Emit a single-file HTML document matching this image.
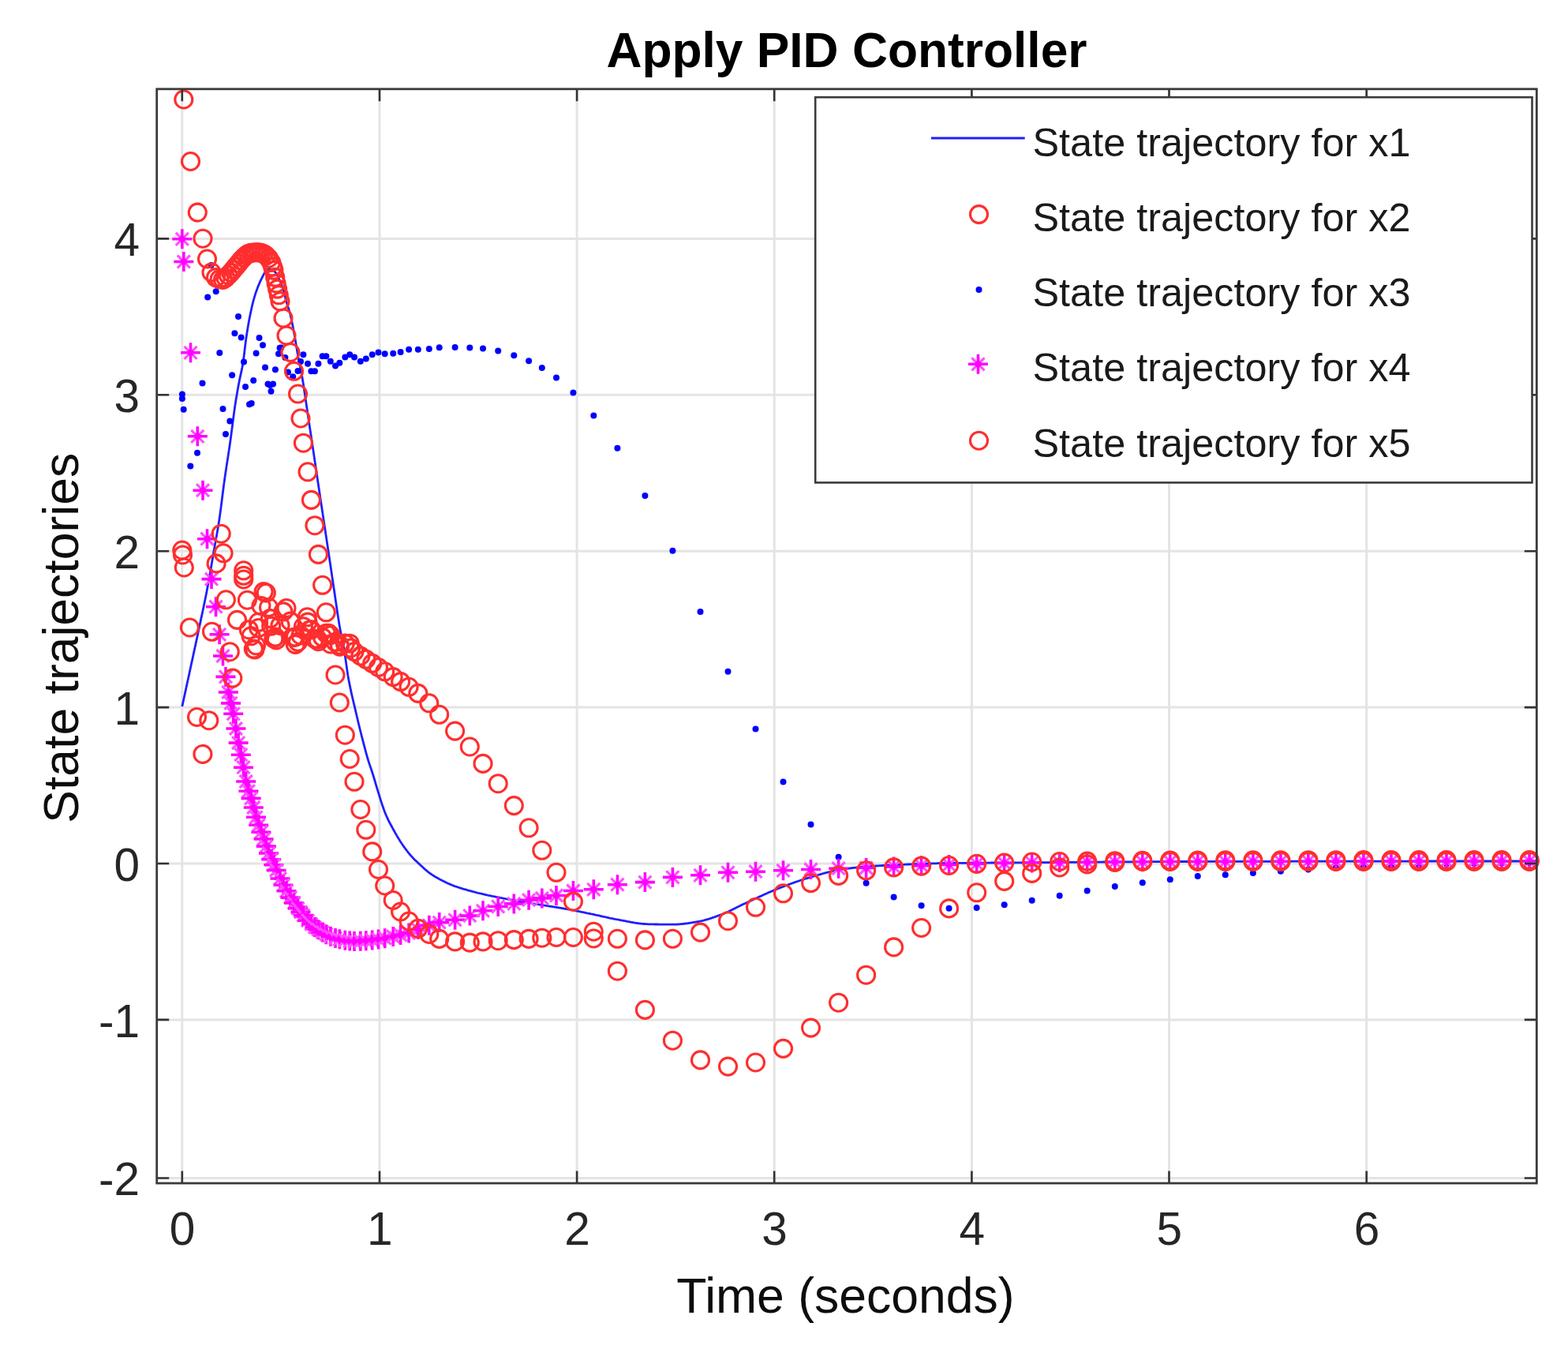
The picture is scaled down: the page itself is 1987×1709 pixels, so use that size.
<!DOCTYPE html><html><head><meta charset="utf-8"><title>Apply PID Controller</title>
<style>html,body{margin:0;padding:0;background:#fff;}svg{display:block;}text{font-family:"Liberation Sans",Arial,Helvetica,sans-serif;}</style></head><body>
<svg width="1987" height="1709" viewBox="0 0 1987 1709">
<rect x="0" y="0" width="1987" height="1709" fill="#fff"/>
<path d="M230.8 112.8V1499.0M481.0 112.8V1499.0M731.1 112.8V1499.0M981.2 112.8V1499.0M1231.4 112.8V1499.0M1481.5 112.8V1499.0M1731.7 112.8V1499.0M198.7 1492.5H1947.3M198.7 1291.9H1947.3M198.7 1094.0H1947.3M198.7 896.1H1947.3M198.7 698.2H1947.3M198.7 500.3H1947.3M198.7 302.4H1947.3" stroke="#e4e4e4" stroke-width="3" fill="none"/>
<defs><circle id="c" r="11.0" fill="none" stroke="#ff2e2e" stroke-width="3.1"/><g id="s"><path d="M-12.5 0H12.5M0 -12.5V12.5" stroke="#ff00ff" stroke-width="3.6" fill="none"/><path d="M-8 -8L8 8M-8 8L8 -8" stroke="#ff50ff" stroke-width="3.2" fill="none"/><circle r="4" fill="#ff00ff"/></g><circle id="d" r="4" fill="#0000ff"/></defs>
<polyline points="230.8,895.0 231.8,890.4 232.8,885.8 233.8,881.2 234.8,876.6 235.8,872.0 236.8,867.4 237.8,862.8 238.8,858.2 239.8,853.6 240.8,849.0 241.8,844.3 242.8,839.7 243.8,835.1 244.8,830.5 245.8,825.9 246.8,821.3 247.8,816.6 248.8,812.0 249.8,807.4 250.8,802.7 251.8,798.0 252.8,793.3 253.8,788.6 254.8,783.9 255.8,779.2 256.8,774.5 257.8,769.8 258.8,765.1 259.8,760.2 260.8,755.3 261.8,750.3 262.8,745.1 263.8,739.7 264.8,734.2 265.8,728.5 266.8,722.7 267.8,716.8 268.8,711.0 269.8,705.1 270.8,699.3 271.8,693.6 272.8,688.1 273.8,682.6 274.8,677.0 275.8,671.2 276.8,665.2 277.8,658.8 278.8,651.9 279.8,644.4 280.8,636.6 281.8,628.6 282.8,620.7 283.8,613.1 284.8,605.9 285.8,599.0 286.8,592.4 287.8,585.9 288.8,579.4 289.8,572.9 290.8,566.2 291.8,559.3 292.8,552.0 293.8,544.3 294.8,536.6 295.8,528.8 296.8,521.4 297.8,514.3 298.8,507.8 299.8,501.8 300.8,496.0 301.8,490.4 302.8,485.1 303.8,480.0 304.8,475.4 305.8,470.9 306.8,466.1 307.8,460.6 308.8,453.8 309.8,445.6 310.8,437.2 311.8,429.4 312.8,422.7 313.8,416.5 314.8,410.6 315.8,405.1 316.8,400.0 317.8,395.1 318.8,390.5 319.8,386.1 320.8,382.2 321.8,378.5 322.8,375.1 323.8,371.9 324.8,368.9 325.8,366.2 326.8,363.5 327.8,361.1 328.8,358.7 329.8,356.4 330.8,354.3 331.8,352.3 332.8,350.3 333.8,348.4 334.8,346.6 335.8,345.0 336.8,343.7 337.8,342.7 338.8,341.7 339.8,340.9 340.8,340.5 341.8,340.6 342.8,340.8 343.8,341.1 344.8,341.4 345.8,341.9 346.8,342.7 347.8,343.7 348.8,344.8 349.8,346.1 350.8,347.8 351.8,349.7 352.8,351.7 353.8,353.8 354.8,356.0 355.8,358.3 356.8,360.9 357.8,363.6 358.8,366.5 359.8,370.0 360.8,374.0 361.8,378.0 362.8,381.7 363.8,385.1 364.8,388.1 365.8,391.2 366.8,394.5 367.8,398.2 368.8,402.4 369.8,407.1 370.8,412.1 371.8,417.3 372.8,422.7 373.8,428.3 374.8,434.1 375.8,440.0 376.8,446.0 377.8,451.6 378.8,456.9 379.8,461.9 380.8,466.8 381.8,471.8 382.8,477.2 383.8,483.0 384.8,489.2 385.8,495.8 386.8,502.6 387.8,509.5 388.8,516.4 389.8,523.2 390.8,529.8 391.8,536.4 392.8,543.1 393.8,549.7 394.8,556.3 395.8,563.0 396.8,569.7 397.8,576.4 398.8,583.1 399.8,589.9 400.8,596.6 401.8,603.3 402.8,610.1 403.8,616.7 404.8,623.4 405.8,630.0 406.8,636.7 407.8,643.3 408.8,649.9 409.8,656.6 410.8,663.2 411.8,669.8 412.8,676.5 413.8,683.1 414.8,689.7 415.8,696.4 416.8,703.1 417.8,709.8 418.8,716.5 419.8,723.3 420.8,730.1 421.8,736.8 422.8,743.6 423.8,750.3 424.8,757.1 425.8,763.9 426.8,770.8 427.8,777.5 428.8,783.9 429.8,790.1 430.8,795.9 431.8,801.2 432.8,806.2 433.8,811.2 434.8,816.3 435.8,821.7 436.8,827.5 437.8,834.1 438.8,841.4 439.8,848.6 440.8,855.2 441.8,860.9 442.8,866.1 443.8,870.9 444.8,875.6 445.8,880.2 446.8,884.5 447.8,888.7 448.8,892.8 449.8,897.1 450.8,901.4 451.8,905.7 452.8,910.0 453.8,914.3 454.8,918.4 455.8,922.5 456.8,926.5 457.8,930.5 458.8,934.4 459.8,938.2 460.8,942.1 461.8,945.9 462.8,949.7 463.8,953.4 464.8,957.0 465.8,960.5 466.8,963.8 467.8,966.9 468.8,969.9 469.8,972.8 470.8,975.7 471.8,978.7 472.8,981.8 473.8,985.1 474.8,988.5 475.8,992.0 476.8,995.4 477.8,998.7 478.8,1001.9 479.8,1005.1 480.8,1008.4 481.8,1011.6 482.8,1014.8 483.8,1017.9 484.8,1020.9 485.8,1023.8 486.8,1026.6 487.8,1029.3 488.8,1031.7 489.8,1034.0 490.8,1036.2 491.8,1038.3 492.8,1040.3 493.8,1042.3 494.8,1044.2 495.8,1046.0 496.8,1047.8 497.8,1049.7 498.8,1051.5 499.8,1053.3 500.8,1055.1 501.8,1056.8 502.8,1058.6 503.8,1060.3 504.8,1061.9 505.8,1063.6 506.8,1065.2 507.8,1066.7 508.8,1068.3 509.8,1069.7 510.8,1071.2 511.8,1072.6 512.8,1074.0 513.8,1075.4 514.8,1076.7 515.8,1078.0 516.8,1079.3 517.8,1080.5 518.8,1081.8 519.8,1083.0 520.8,1084.1 521.8,1085.2 522.8,1086.3 523.8,1087.4 524.8,1088.4 525.8,1089.4 526.8,1090.4 527.8,1091.3 528.8,1092.2 529.8,1093.2 530.8,1094.1 531.8,1095.0 532.8,1096.0 533.8,1096.9 534.8,1097.8 535.8,1098.8 536.8,1099.7 537.8,1100.6 538.8,1101.5 539.8,1102.4 540.8,1103.2 541.8,1104.0 542.8,1104.8 543.8,1105.6 544.8,1106.3 545.8,1107.0 546.8,1107.7 547.8,1108.4 548.8,1109.0 549.8,1109.7 550.8,1110.3 551.8,1110.9 552.8,1111.4 553.8,1112.0 554.8,1112.6 555.8,1113.1 556.8,1113.7 557.8,1114.2 558.8,1114.7 559.8,1115.3 560.8,1115.8 561.8,1116.3 562.8,1116.8 563.8,1117.3 564.8,1117.8 565.8,1118.3 566.8,1118.7 567.8,1119.2 568.8,1119.6 569.8,1120.1 570.8,1120.5 571.8,1120.9 572.8,1121.3 573.8,1121.7 574.8,1122.1 575.8,1122.5 576.8,1122.8 577.8,1123.2 578.8,1123.5 579.8,1123.8 580.8,1124.2 581.8,1124.5 582.8,1124.8 583.8,1125.1 584.8,1125.4 585.8,1125.8 586.8,1126.1 587.8,1126.4 588.8,1126.6 589.8,1126.9 590.8,1127.2 591.8,1127.5 592.8,1127.8 593.8,1128.1 594.8,1128.4 595.8,1128.6 596.8,1128.9 597.8,1129.2 598.8,1129.5 599.8,1129.7 600.8,1130.0 601.8,1130.2 602.8,1130.5 603.8,1130.8 604.8,1131.0 605.8,1131.3 606.8,1131.5 607.8,1131.7 608.8,1132.0 609.8,1132.2 610.8,1132.5 611.8,1132.7 612.8,1132.9 613.8,1133.2 614.8,1133.4 615.8,1133.6 616.8,1133.8 617.8,1134.0 618.8,1134.3 619.8,1134.5 620.8,1134.7 621.8,1134.9 622.8,1135.1 623.8,1135.3 624.8,1135.5 625.8,1135.7 626.8,1135.9 627.8,1136.1 628.8,1136.3 629.8,1136.5 630.8,1136.7 631.8,1136.9 632.8,1137.1 633.8,1137.3 634.8,1137.5 635.8,1137.7 636.8,1137.9 637.8,1138.1 638.8,1138.3 639.8,1138.5 640.8,1138.7 641.8,1138.8 642.8,1139.0 643.8,1139.2 644.8,1139.4 645.8,1139.6 646.8,1139.8 647.8,1139.9 648.8,1140.1 649.8,1140.3 650.8,1140.5 651.8,1140.7 652.8,1140.8 653.8,1141.0 654.8,1141.2 655.8,1141.4 656.8,1141.5 657.8,1141.7 658.8,1141.9 659.8,1142.1 660.8,1142.2 661.8,1142.4 662.8,1142.6 663.8,1142.7 664.8,1142.9 665.8,1143.1 666.8,1143.2 667.8,1143.4 668.8,1143.6 669.8,1143.7 670.8,1143.9 671.8,1144.0 672.8,1144.2 673.8,1144.4 674.8,1144.5 675.8,1144.7 676.8,1144.9 677.8,1145.0 678.8,1145.2 679.8,1145.4 680.8,1145.5 681.8,1145.7 682.8,1145.9 683.8,1146.0 684.8,1146.2 685.8,1146.3 686.8,1146.5 687.8,1146.7 688.8,1146.8 689.8,1147.0 690.8,1147.2 691.8,1147.3 692.8,1147.5 693.8,1147.6 694.8,1147.8 695.8,1148.0 696.8,1148.1 697.8,1148.3 698.8,1148.4 699.8,1148.6 700.8,1148.8 701.8,1148.9 702.8,1149.1 703.8,1149.2 704.8,1149.4 705.8,1149.6 706.8,1149.7 707.8,1149.9 708.8,1150.1 709.8,1150.2 710.8,1150.4 711.8,1150.6 712.8,1150.7 713.8,1150.9 714.8,1151.1 715.8,1151.3 716.8,1151.4 717.8,1151.6 718.8,1151.8 719.8,1152.0 720.8,1152.2 721.8,1152.3 722.8,1152.5 723.8,1152.7 724.8,1152.9 725.8,1153.1 726.8,1153.3 727.8,1153.5 728.8,1153.7 729.8,1153.9 730.8,1154.1 731.8,1154.3 732.8,1154.5 733.8,1154.7 734.8,1154.9 735.8,1155.1 736.8,1155.3 737.8,1155.5 738.8,1155.7 739.8,1155.9 740.8,1156.1 741.8,1156.3 742.8,1156.5 743.8,1156.8 744.8,1157.0 745.8,1157.2 746.8,1157.4 747.8,1157.6 748.8,1157.8 749.8,1158.0 750.8,1158.2 751.8,1158.4 752.8,1158.6 753.8,1158.9 754.8,1159.1 755.8,1159.3 756.8,1159.5 757.8,1159.7 758.8,1159.9 759.8,1160.1 760.8,1160.4 761.8,1160.6 762.8,1160.8 763.8,1161.1 764.8,1161.3 765.8,1161.5 766.8,1161.7 767.8,1162.0 768.8,1162.2 769.8,1162.4 770.8,1162.6 771.8,1162.9 772.8,1163.1 773.8,1163.3 774.8,1163.5 775.8,1163.7 776.8,1163.9 777.8,1164.1 778.8,1164.3 779.8,1164.5 780.8,1164.7 781.8,1164.8 782.8,1165.0 783.8,1165.2 784.8,1165.4 785.8,1165.6 786.8,1165.8 787.8,1166.0 788.8,1166.2 789.8,1166.4 790.8,1166.6 791.8,1166.7 792.8,1166.9 793.8,1167.1 794.8,1167.3 795.8,1167.5 796.8,1167.7 797.8,1167.9 798.8,1168.1 799.8,1168.3 800.8,1168.4 801.8,1168.6 802.8,1168.8 803.8,1168.9 804.8,1169.1 805.8,1169.3 806.8,1169.4 807.8,1169.6 808.8,1169.7 809.8,1169.8 810.8,1170.0 811.8,1170.1 812.8,1170.2 813.8,1170.3 814.8,1170.4 815.8,1170.5 816.8,1170.5 817.8,1170.6 818.8,1170.7 819.8,1170.7 820.8,1170.8 821.8,1170.8 822.8,1170.8 823.8,1170.8 824.8,1170.9 825.8,1170.9 826.8,1170.9 827.8,1170.9 828.8,1170.9 829.8,1171.0 830.8,1171.0 831.8,1171.0 832.8,1171.0 833.8,1171.0 834.8,1171.1 835.8,1171.1 836.8,1171.1 837.8,1171.1 838.8,1171.1 839.8,1171.1 840.8,1171.1 841.8,1171.1 842.8,1171.2 843.8,1171.2 844.8,1171.2 845.8,1171.2 846.8,1171.2 847.8,1171.2 848.8,1171.2 849.8,1171.2 850.8,1171.2 851.8,1171.2 852.8,1171.2 853.8,1171.2 854.8,1171.2 855.8,1171.1 856.8,1171.1 857.8,1171.1 858.8,1171.0 859.8,1170.9 860.8,1170.9 861.8,1170.8 862.8,1170.7 863.8,1170.6 864.8,1170.5 865.8,1170.4 866.8,1170.3 867.8,1170.1 868.8,1170.0 869.8,1169.9 870.8,1169.8 871.8,1169.6 872.8,1169.5 873.8,1169.3 874.8,1169.2 875.8,1169.0 876.8,1168.9 877.8,1168.7 878.8,1168.5 879.8,1168.4 880.8,1168.2 881.8,1168.1 882.8,1167.9 883.8,1167.7 884.8,1167.6 885.8,1167.4 886.8,1167.2 887.8,1167.0 888.8,1166.7 889.8,1166.5 890.8,1166.3 891.8,1166.0 892.8,1165.7 893.8,1165.5 894.8,1165.2 895.8,1164.9 896.8,1164.6 897.8,1164.3 898.8,1164.0 899.8,1163.6 900.8,1163.3 901.8,1163.0 902.8,1162.6 903.8,1162.3 904.8,1162.0 905.8,1161.6 906.8,1161.3 907.8,1160.9 908.8,1160.5 909.8,1160.2 910.8,1159.8 911.8,1159.4 912.8,1159.1 913.8,1158.7 914.8,1158.3 915.8,1158.0 916.8,1157.6 917.8,1157.2 918.8,1156.7 919.8,1156.3 920.8,1155.9 921.8,1155.4 922.8,1155.0 923.8,1154.5 924.8,1154.0 925.8,1153.5 926.8,1153.1 927.8,1152.6 928.8,1152.1 929.8,1151.6 930.8,1151.1 931.8,1150.6 932.8,1150.1 933.8,1149.6 934.8,1149.1 935.8,1148.6 936.8,1148.1 937.8,1147.6 938.8,1147.1 939.8,1146.6 940.8,1146.1 941.8,1145.6 942.8,1145.1 943.8,1144.7 944.8,1144.2 945.8,1143.7 946.8,1143.3 947.8,1142.8 948.8,1142.4 949.8,1141.9 950.8,1141.4 951.8,1141.0 952.8,1140.5 953.8,1140.0 954.8,1139.6 955.8,1139.1 956.8,1138.6 957.8,1138.2 958.8,1137.7 959.8,1137.2 960.8,1136.8 961.8,1136.3 962.8,1135.8 963.8,1135.4 964.8,1134.9 965.8,1134.4 966.8,1134.0 967.8,1133.5 968.8,1133.1 969.8,1132.6 970.8,1132.2 971.8,1131.7 972.8,1131.3 973.8,1130.8 974.8,1130.4 975.8,1130.0 976.8,1129.5 977.8,1129.1 978.8,1128.7 979.8,1128.2 980.8,1127.8 981.8,1127.4 982.8,1127.0 983.8,1126.6 984.8,1126.2 985.8,1125.8 986.8,1125.4 987.8,1125.0 988.8,1124.6 989.8,1124.2 990.8,1123.8 991.8,1123.5 992.8,1123.1 993.8,1122.7 994.8,1122.3 995.8,1121.9 996.8,1121.5 997.8,1121.2 998.8,1120.8 999.8,1120.4 1000.8,1120.1 1001.8,1119.7 1002.8,1119.3 1003.8,1119.0 1004.8,1118.6 1005.8,1118.2 1006.8,1117.9 1007.8,1117.5 1008.8,1117.2 1009.8,1116.8 1010.8,1116.5 1011.8,1116.1 1012.8,1115.8 1013.8,1115.5 1014.8,1115.1 1015.8,1114.8 1016.8,1114.5 1017.8,1114.1 1018.8,1113.8 1019.8,1113.5 1020.8,1113.2 1021.8,1112.9 1022.8,1112.6 1023.8,1112.3 1024.8,1112.0 1025.8,1111.7 1026.8,1111.4 1027.8,1111.1 1028.8,1110.8 1029.8,1110.5 1030.8,1110.2 1031.8,1109.9 1032.8,1109.6 1033.8,1109.3 1034.8,1109.0 1035.8,1108.7 1036.8,1108.4 1037.8,1108.2 1038.8,1107.9 1039.8,1107.6 1040.8,1107.3 1041.8,1107.0 1042.8,1106.7 1043.8,1106.5 1044.8,1106.2 1045.8,1105.9 1046.8,1105.6 1047.8,1105.4 1048.8,1105.1 1049.8,1104.9 1050.8,1104.6 1051.8,1104.4 1052.8,1104.1 1053.8,1103.9 1054.8,1103.6 1055.8,1103.4 1056.8,1103.2 1057.8,1103.0 1058.8,1102.8 1059.8,1102.6 1060.8,1102.4 1061.8,1102.2 1062.8,1102.0 1063.8,1101.8 1064.8,1101.6 1065.8,1101.5 1066.8,1101.3 1067.8,1101.2 1068.8,1101.0 1069.8,1100.9 1070.8,1100.8 1071.8,1100.6 1072.8,1100.5 1073.8,1100.4 1074.8,1100.2 1075.8,1100.1 1076.8,1100.0 1077.8,1099.9 1078.8,1099.8 1079.8,1099.6 1080.8,1099.5 1081.8,1099.4 1082.8,1099.3 1083.8,1099.2 1084.8,1099.1 1085.8,1099.0 1086.8,1098.9 1087.8,1098.8 1088.8,1098.7 1089.8,1098.6 1090.8,1098.5 1091.8,1098.4 1092.8,1098.3 1093.8,1098.2 1094.8,1098.2 1095.8,1098.1 1096.8,1098.0 1097.8,1097.9 1098.8,1097.8 1099.8,1097.7 1100.8,1097.7 1101.8,1097.6 1102.8,1097.5 1103.8,1097.4 1104.8,1097.4 1105.8,1097.3 1106.8,1097.2 1107.8,1097.2 1108.8,1097.1 1109.8,1097.0 1110.8,1097.0 1111.8,1096.9 1112.8,1096.8 1113.8,1096.8 1114.8,1096.7 1115.8,1096.7 1116.8,1096.6 1117.8,1096.5 1118.8,1096.5 1119.8,1096.4 1120.8,1096.4 1121.8,1096.3 1122.8,1096.3 1123.8,1096.2 1124.8,1096.2 1125.8,1096.1 1126.8,1096.1 1127.8,1096.0 1128.8,1096.0 1129.8,1095.9 1130.8,1095.9 1131.8,1095.9 1132.8,1095.8 1133.8,1095.8 1134.8,1095.7 1135.8,1095.7 1136.8,1095.6 1137.8,1095.6 1138.8,1095.5 1139.8,1095.5 1140.8,1095.5 1141.8,1095.4 1142.8,1095.4 1143.8,1095.3 1144.8,1095.3 1145.8,1095.3 1146.8,1095.2 1147.8,1095.2 1148.8,1095.1 1149.8,1095.1 1150.8,1095.0 1151.8,1095.0 1152.8,1095.0 1153.8,1094.9 1154.8,1094.9 1155.8,1094.8 1156.8,1094.8 1157.8,1094.8 1158.8,1094.7 1159.8,1094.7 1160.8,1094.6 1161.8,1094.6 1162.8,1094.6 1163.8,1094.5 1164.8,1094.5 1165.8,1094.4 1166.8,1094.4 1167.8,1094.4 1168.8,1094.3 1169.8,1094.3 1170.8,1094.3 1171.8,1094.2 1172.8,1094.2 1173.8,1094.1 1174.8,1094.1 1175.8,1094.1 1176.8,1094.0 1177.8,1094.0 1178.8,1094.0 1179.8,1094.0 1180.8,1093.9 1181.8,1093.9 1182.8,1093.9 1183.8,1093.8 1184.8,1093.8 1185.8,1093.8 1186.8,1093.8 1187.8,1093.7 1188.8,1093.7 1189.8,1093.7 1190.8,1093.7 1191.8,1093.6 1192.8,1093.6 1193.8,1093.6 1194.8,1093.6 1195.8,1093.6 1196.8,1093.5 1197.8,1093.5 1198.8,1093.5 1199.8,1093.5 1200.8,1093.5 1201.8,1093.5 1202.8,1093.5 1203.8,1093.5 1204.8,1093.4 1205.8,1093.4 1206.8,1093.4 1207.8,1093.4 1208.8,1093.4 1209.8,1093.4 1210.8,1093.4 1211.8,1093.4 1212.8,1093.4 1213.8,1093.3 1214.8,1093.3 1215.8,1093.3 1216.8,1093.3 1217.8,1093.3 1218.8,1093.3 1219.8,1093.3 1220.8,1093.3 1221.8,1093.3 1222.8,1093.3 1223.8,1093.3 1224.8,1093.3 1225.8,1093.2 1226.8,1093.2 1227.8,1093.2 1228.8,1093.2 1229.8,1093.2 1230.8,1093.2 1231.8,1093.2 1232.8,1093.2 1233.8,1093.2 1234.8,1093.2 1235.8,1093.2 1236.8,1093.2 1237.8,1093.2 1238.8,1093.2 1239.8,1093.1 1240.8,1093.1 1241.8,1093.1 1242.8,1093.1 1243.8,1093.1 1244.8,1093.1 1245.8,1093.1 1246.8,1093.1 1247.8,1093.1 1248.8,1093.1 1249.8,1093.1 1250.8,1093.1 1251.8,1093.1 1252.8,1093.1 1253.8,1093.1 1254.8,1093.1 1255.8,1093.0 1256.8,1093.0 1257.8,1093.0 1258.8,1093.0 1259.8,1093.0 1260.8,1093.0 1261.8,1093.0 1262.8,1093.0 1263.8,1093.0 1264.8,1093.0 1265.8,1093.0 1266.8,1093.0 1267.8,1093.0 1268.8,1093.0 1269.8,1093.0 1270.8,1093.0 1271.8,1093.0 1272.8,1093.0 1273.8,1093.0 1274.8,1092.9 1275.8,1092.9 1276.8,1092.9 1277.8,1092.9 1278.8,1092.9 1279.8,1092.9 1280.8,1092.9 1281.8,1092.9 1282.8,1092.9 1283.8,1092.9 1284.8,1092.9 1285.8,1092.9 1286.8,1092.9 1287.8,1092.9 1288.8,1092.9 1289.8,1092.9 1290.8,1092.9 1291.8,1092.9 1292.8,1092.8 1293.8,1092.8 1294.8,1092.8 1295.8,1092.8 1296.8,1092.8 1297.8,1092.8 1298.8,1092.8 1299.8,1092.8 1300.8,1092.8 1301.8,1092.8 1302.8,1092.8 1303.8,1092.8 1304.8,1092.8 1305.8,1092.8 1306.8,1092.8 1307.8,1092.7 1308.8,1092.7 1309.8,1092.7 1310.8,1092.7 1311.8,1092.7 1312.8,1092.7 1313.8,1092.7 1314.8,1092.7 1315.8,1092.7 1316.8,1092.7 1317.8,1092.7 1318.8,1092.7 1319.8,1092.7 1320.8,1092.7 1321.8,1092.6 1322.8,1092.6 1323.8,1092.6 1324.8,1092.6 1325.8,1092.6 1326.8,1092.6 1327.8,1092.6 1328.8,1092.6 1329.8,1092.6 1330.8,1092.6 1331.8,1092.6 1332.8,1092.6 1333.8,1092.6 1334.8,1092.5 1335.8,1092.5 1336.8,1092.5 1337.8,1092.5 1338.8,1092.5 1339.8,1092.5 1340.8,1092.5 1341.8,1092.5 1342.8,1092.5 1343.8,1092.5 1344.8,1092.5 1345.8,1092.5 1346.8,1092.5 1347.8,1092.4 1348.8,1092.4 1349.8,1092.4 1350.8,1092.4 1351.8,1092.4 1352.8,1092.4 1353.8,1092.4 1354.8,1092.4 1355.8,1092.4 1356.8,1092.4 1357.8,1092.4 1358.8,1092.4 1359.8,1092.3 1360.8,1092.3 1361.8,1092.3 1362.8,1092.3 1363.8,1092.3 1364.8,1092.3 1365.8,1092.3 1366.8,1092.3 1367.8,1092.3 1368.8,1092.3 1369.8,1092.3 1370.8,1092.3 1371.8,1092.3 1372.8,1092.2 1373.8,1092.2 1374.8,1092.2 1375.8,1092.2 1376.8,1092.2 1377.8,1092.2 1378.8,1092.2 1379.8,1092.2 1380.8,1092.2 1381.8,1092.2 1382.8,1092.2 1383.8,1092.2 1384.8,1092.2 1385.8,1092.1 1386.8,1092.1 1387.8,1092.1 1388.8,1092.1 1389.8,1092.1 1390.8,1092.1 1391.8,1092.1 1392.8,1092.1 1393.8,1092.1 1394.8,1092.1 1395.8,1092.1 1396.8,1092.1 1397.8,1092.0 1398.8,1092.0 1399.8,1092.0 1400.8,1092.0 1401.8,1092.0 1402.8,1092.0 1403.8,1092.0 1404.8,1092.0 1405.8,1092.0 1406.8,1092.0 1407.8,1092.0 1408.8,1092.0 1409.8,1092.0 1410.8,1092.0 1411.8,1091.9 1412.8,1091.9 1413.8,1091.9 1414.8,1091.9 1415.8,1091.9 1416.8,1091.9 1417.8,1091.9 1418.8,1091.9 1419.8,1091.9 1420.8,1091.9 1421.8,1091.9 1422.8,1091.9 1423.8,1091.9 1424.8,1091.9 1425.8,1091.8 1426.8,1091.8 1427.8,1091.8 1428.8,1091.8 1429.8,1091.8 1430.8,1091.8 1431.8,1091.8 1432.8,1091.8 1433.8,1091.8 1434.8,1091.8 1435.8,1091.8 1436.8,1091.8 1437.8,1091.8 1438.8,1091.8 1439.8,1091.8 1440.8,1091.8 1441.8,1091.7 1442.8,1091.7 1443.8,1091.7 1444.8,1091.7 1445.8,1091.7 1446.8,1091.7 1447.8,1091.7 1448.8,1091.7 1449.8,1091.7 1450.8,1091.7 1451.8,1091.7 1452.8,1091.7 1453.8,1091.7 1454.8,1091.7 1455.8,1091.7 1456.8,1091.7 1457.8,1091.7 1458.8,1091.7 1459.8,1091.6 1460.8,1091.6 1461.8,1091.6 1462.8,1091.6 1463.8,1091.6 1464.8,1091.6 1465.8,1091.6 1466.8,1091.6 1467.8,1091.6 1468.8,1091.6 1469.8,1091.6 1470.8,1091.6 1471.8,1091.6 1472.8,1091.6 1473.8,1091.6 1474.8,1091.6 1475.8,1091.6 1476.8,1091.6 1477.8,1091.6 1478.8,1091.6 1479.8,1091.6 1480.8,1091.6 1481.8,1091.6 1482.8,1091.5 1483.8,1091.5 1484.8,1091.5 1485.8,1091.5 1486.8,1091.5 1487.8,1091.5 1488.8,1091.5 1489.8,1091.5 1490.8,1091.5 1491.8,1091.5 1492.8,1091.5 1493.8,1091.5 1494.8,1091.5 1495.8,1091.5 1496.8,1091.5 1497.8,1091.5 1498.8,1091.5 1499.8,1091.5 1500.8,1091.5 1501.8,1091.5 1502.8,1091.5 1503.8,1091.5 1504.8,1091.5 1505.8,1091.5 1506.8,1091.5 1507.8,1091.5 1508.8,1091.5 1509.8,1091.5 1510.8,1091.5 1511.8,1091.5 1512.8,1091.5 1513.8,1091.5 1514.8,1091.5 1515.8,1091.5 1516.8,1091.5 1517.8,1091.5 1518.8,1091.5 1519.8,1091.5 1520.8,1091.5 1521.8,1091.5 1522.8,1091.5 1523.8,1091.5 1524.8,1091.4 1525.8,1091.4 1526.8,1091.4 1527.8,1091.4 1528.8,1091.4 1529.8,1091.4 1530.8,1091.4 1531.8,1091.4 1532.8,1091.4 1533.8,1091.4 1534.8,1091.4 1535.8,1091.4 1536.8,1091.4 1537.8,1091.4 1538.8,1091.4 1539.8,1091.4 1540.8,1091.4 1541.8,1091.4 1542.8,1091.4 1543.8,1091.4 1544.8,1091.4 1545.8,1091.4 1546.8,1091.4 1547.8,1091.4 1548.8,1091.4 1549.8,1091.4 1550.8,1091.4 1551.8,1091.4 1552.8,1091.4 1553.8,1091.4 1554.8,1091.4 1555.8,1091.4 1556.8,1091.4 1557.8,1091.4 1558.8,1091.4 1559.8,1091.4 1560.8,1091.4 1561.8,1091.4 1562.8,1091.4 1563.8,1091.4 1564.8,1091.4 1565.8,1091.4 1566.8,1091.4 1567.8,1091.4 1568.8,1091.4 1569.8,1091.4 1570.8,1091.4 1571.8,1091.4 1572.8,1091.4 1573.8,1091.4 1574.8,1091.4 1575.8,1091.4 1576.8,1091.4 1577.8,1091.3 1578.8,1091.3 1579.8,1091.3 1580.8,1091.3 1581.8,1091.3 1582.8,1091.3 1583.8,1091.3 1584.8,1091.3 1585.8,1091.3 1586.8,1091.3 1587.8,1091.3 1588.8,1091.3 1589.8,1091.3 1590.8,1091.3 1591.8,1091.3 1592.8,1091.3 1593.8,1091.3 1594.8,1091.3 1595.8,1091.3 1596.8,1091.3 1597.8,1091.3 1598.8,1091.3 1599.8,1091.3 1600.8,1091.3 1601.8,1091.3 1602.8,1091.3 1603.8,1091.3 1604.8,1091.3 1605.8,1091.3 1606.8,1091.3 1607.8,1091.3 1608.8,1091.3 1609.8,1091.3 1610.8,1091.3 1611.8,1091.3 1612.8,1091.3 1613.8,1091.3 1614.8,1091.3 1615.8,1091.3 1616.8,1091.3 1617.8,1091.3 1618.8,1091.3 1619.8,1091.3 1620.8,1091.3 1621.8,1091.3 1622.8,1091.3 1623.8,1091.3 1624.8,1091.3 1625.8,1091.3 1626.8,1091.3 1627.8,1091.3 1628.8,1091.3 1629.8,1091.3 1630.8,1091.3 1631.8,1091.3 1632.8,1091.3 1633.8,1091.3 1634.8,1091.3 1635.8,1091.3 1636.8,1091.2 1637.8,1091.2 1638.8,1091.2 1639.8,1091.2 1640.8,1091.2 1641.8,1091.2 1642.8,1091.2 1643.8,1091.2 1644.8,1091.2 1645.8,1091.2 1646.8,1091.2 1647.8,1091.2 1648.8,1091.2 1649.8,1091.2 1650.8,1091.2 1651.8,1091.2 1652.8,1091.2 1653.8,1091.2 1654.8,1091.2 1655.8,1091.2 1656.8,1091.2 1657.8,1091.2 1658.8,1091.2 1659.8,1091.2 1660.8,1091.2 1661.8,1091.2 1662.8,1091.2 1663.8,1091.2 1664.8,1091.2 1665.8,1091.2 1666.8,1091.2 1667.8,1091.2 1668.8,1091.2 1669.8,1091.2 1670.8,1091.2 1671.8,1091.2 1672.8,1091.2 1673.8,1091.2 1674.8,1091.2 1675.8,1091.2 1676.8,1091.2 1677.8,1091.2 1678.8,1091.2 1679.8,1091.2 1680.8,1091.2 1681.8,1091.2 1682.8,1091.2 1683.8,1091.2 1684.8,1091.2 1685.8,1091.2 1686.8,1091.2 1687.8,1091.2 1688.8,1091.2 1689.8,1091.2 1690.8,1091.2 1691.8,1091.2 1692.8,1091.2 1693.8,1091.2 1694.8,1091.2 1695.8,1091.2 1696.8,1091.2 1697.8,1091.2 1698.8,1091.2 1699.8,1091.2 1700.8,1091.2 1701.8,1091.2 1702.8,1091.2 1703.8,1091.2 1704.8,1091.2 1705.8,1091.2 1706.8,1091.2 1707.8,1091.2 1708.8,1091.1 1709.8,1091.1 1710.8,1091.1 1711.8,1091.1 1712.8,1091.1 1713.8,1091.1 1714.8,1091.1 1715.8,1091.1 1716.8,1091.1 1717.8,1091.1 1718.8,1091.1 1719.8,1091.1 1720.8,1091.1 1721.8,1091.1 1722.8,1091.1 1723.8,1091.1 1724.8,1091.1 1725.8,1091.1 1726.8,1091.1 1727.8,1091.1 1728.8,1091.1 1729.8,1091.1 1730.8,1091.1 1731.8,1091.1 1732.8,1091.1 1733.8,1091.1 1734.8,1091.1 1735.8,1091.1 1736.8,1091.1 1737.8,1091.1 1738.8,1091.1 1739.8,1091.1 1740.8,1091.1 1741.8,1091.1 1742.8,1091.1 1743.8,1091.1 1744.8,1091.1 1745.8,1091.1 1746.8,1091.1 1747.8,1091.1 1748.8,1091.1 1749.8,1091.1 1750.8,1091.1 1751.8,1091.1 1752.8,1091.1 1753.8,1091.1 1754.8,1091.1 1755.8,1091.1 1756.8,1091.1 1757.8,1091.1 1758.8,1091.1 1759.8,1091.1 1760.8,1091.1 1761.8,1091.1 1762.8,1091.1 1763.8,1091.1 1764.8,1091.1 1765.8,1091.1 1766.8,1091.1 1767.8,1091.1 1768.8,1091.1 1769.8,1091.1 1770.8,1091.1 1771.8,1091.1 1772.8,1091.1 1773.8,1091.1 1774.8,1091.1 1775.8,1091.1 1776.8,1091.1 1777.8,1091.1 1778.8,1091.1 1779.8,1091.1 1780.8,1091.1 1781.8,1091.1 1782.8,1091.1 1783.8,1091.1 1784.8,1091.1 1785.8,1091.1 1786.8,1091.1 1787.8,1091.1 1788.8,1091.1 1789.8,1091.1 1790.8,1091.1 1791.8,1091.1 1792.8,1091.1 1793.8,1091.1 1794.8,1091.1 1795.8,1091.1 1796.8,1091.1 1797.8,1091.1 1798.8,1091.1 1799.8,1091.1 1800.8,1091.1 1801.8,1091.1 1802.8,1091.1 1803.8,1091.1 1804.8,1091.1 1805.8,1091.1 1806.8,1091.1 1807.8,1091.1 1808.8,1091.1 1809.8,1091.1 1810.8,1091.0 1811.8,1091.0 1812.8,1091.0 1813.8,1091.0 1814.8,1091.0 1815.8,1091.0 1816.8,1091.0 1817.8,1091.0 1818.8,1091.0 1819.8,1091.0 1820.8,1091.0 1821.8,1091.0 1822.8,1091.0 1823.8,1091.0 1824.8,1091.0 1825.8,1091.0 1826.8,1091.0 1827.8,1091.0 1828.8,1091.0 1829.8,1091.0 1830.8,1091.0 1831.8,1091.0 1832.8,1091.0 1833.8,1091.0 1834.8,1091.0 1835.8,1091.0 1836.8,1091.0 1837.8,1091.0 1838.8,1091.0 1839.8,1091.0 1840.8,1091.0 1841.8,1091.0 1842.8,1091.0 1843.8,1091.0 1844.8,1091.0 1845.8,1091.0 1846.8,1091.0 1847.8,1091.0 1848.8,1091.0 1849.8,1091.0 1850.8,1091.0 1851.8,1091.0 1852.8,1091.0 1853.8,1091.0 1854.8,1091.0 1855.8,1091.0 1856.8,1091.0 1857.8,1091.0 1858.8,1091.0 1859.8,1091.0 1860.8,1091.0 1861.8,1091.0 1862.8,1091.0 1863.8,1091.0 1864.8,1091.0 1865.8,1091.0 1866.8,1091.0 1867.8,1091.0 1868.8,1091.0 1869.8,1091.0 1870.8,1091.0 1871.8,1091.0 1872.8,1091.0 1873.8,1091.0 1874.8,1091.0 1875.8,1091.0 1876.8,1091.0 1877.8,1091.0 1878.8,1091.0 1879.8,1091.0 1880.8,1091.0 1881.8,1091.0 1882.8,1091.0 1883.8,1091.0 1884.8,1091.0 1885.8,1091.0 1886.8,1091.0 1887.8,1091.0 1888.8,1091.0 1889.8,1091.0 1890.8,1091.0 1891.8,1091.0 1892.8,1091.0 1893.8,1091.0 1894.8,1091.0 1895.8,1091.0 1896.8,1091.0 1897.8,1091.0 1898.8,1091.0 1899.8,1091.0 1900.8,1091.0 1901.8,1091.0 1902.8,1091.0 1903.8,1091.0 1904.8,1091.0 1905.8,1091.0 1906.8,1091.0 1907.8,1091.0 1908.8,1091.0 1909.8,1091.0 1910.8,1091.0 1911.8,1091.0 1912.8,1091.0 1913.8,1091.0 1914.8,1091.0 1915.8,1091.0 1916.8,1091.0 1917.8,1091.0 1918.8,1091.0 1919.8,1091.0 1920.8,1091.0 1921.8,1091.0 1922.8,1091.0 1923.8,1091.0 1924.8,1091.0 1925.8,1091.0 1926.8,1091.0 1927.8,1091.0 1928.8,1091.0 1929.8,1091.0 1930.8,1091.0 1931.8,1091.0 1932.8,1091.0 1933.8,1091.0 1934.8,1091.0 1935.8,1091.0 1936.8,1091.0 1937.8,1091.0 1938.8,1091.0 1939.8,1091.0 1940.8,1091.0 1941.8,1091.0 1942.8,1091.0 1943.8,1091.0 1944.8,1091.0 1945.8,1091.0" fill="none" stroke="#1f1fff" stroke-width="2.8" stroke-linejoin="round"/>
<use href="#d" x="230.9" y="499.6"/>
<use href="#d" x="230.9" y="505.1"/>
<use href="#d" x="232.7" y="518.7"/>
<use href="#d" x="241.3" y="590.5"/>
<use href="#d" x="250.0" y="573.8"/>
<use href="#d" x="256.5" y="485.4"/>
<use href="#d" x="263.2" y="376.4"/>
<use href="#d" x="267.6" y="336.0"/>
<use href="#d" x="273.7" y="369.3"/>
<use href="#d" x="278.3" y="447.0"/>
<use href="#d" x="282.5" y="518.0"/>
<use href="#d" x="286.0" y="550.1"/>
<use href="#d" x="291.3" y="533.5"/>
<use href="#d" x="294.1" y="475.3"/>
<use href="#d" x="297.4" y="422.2"/>
<use href="#d" x="302.0" y="401.0"/>
<use href="#d" x="305.6" y="427.6"/>
<use href="#d" x="309.0" y="458.6"/>
<use href="#d" x="311.0" y="490.0"/>
<use href="#d" x="316.0" y="512.3"/>
<use href="#d" x="318.7" y="511.0"/>
<use href="#d" x="321.2" y="482.0"/>
<use href="#d" x="324.6" y="447.5"/>
<use href="#d" x="328.5" y="428.0"/>
<use href="#d" x="333.0" y="437.3"/>
<use href="#d" x="336.0" y="465.5"/>
<use href="#d" x="342.3" y="487.9"/>
<use href="#d" x="343.5" y="495.7"/>
<use href="#d" x="348.9" y="468.2"/>
<use href="#d" x="353.0" y="448.2"/>
<use href="#d" x="354.6" y="440.7"/>
<use href="#d" x="356.2" y="440.4"/>
<use href="#d" x="361.4" y="453.0"/>
<use href="#d" x="365.0" y="471.4"/>
<use href="#d" x="371.2" y="477.3"/>
<use href="#d" x="339.5" y="486.5"/>
<use href="#d" x="346.0" y="486.5"/>
<use href="#d" x="377.5" y="470.0"/>
<use href="#d" x="381.0" y="458.0"/>
<use href="#d" x="384.4" y="449.2"/>
<use href="#d" x="390.0" y="460.7"/>
<use href="#d" x="394.4" y="470.2"/>
<use href="#d" x="398.9" y="470.2"/>
<use href="#d" x="403.4" y="460.7"/>
<use href="#d" x="408.6" y="451.2"/>
<use href="#d" x="413.3" y="451.2"/>
<use href="#d" x="418.8" y="457.7"/>
<use href="#d" x="425.0" y="463.6"/>
<use href="#d" x="430.3" y="459.7"/>
<use href="#d" x="437.3" y="452.5"/>
<use href="#d" x="443.2" y="449.2"/>
<use href="#d" x="449.0" y="452.5"/>
<use href="#d" x="456.8" y="457.7"/>
<use href="#d" x="463.8" y="454.5"/>
<use href="#d" x="471.7" y="449.2"/>
<use href="#d" x="479.5" y="446.5"/>
<use href="#d" x="487.7" y="448.3"/>
<use href="#d" x="498.2" y="447.8"/>
<use href="#d" x="507.6" y="445.9"/>
<use href="#d" x="518.1" y="442.8"/>
<use href="#d" x="529.8" y="442.7"/>
<use href="#d" x="543.8" y="441.9"/>
<use href="#d" x="556.7" y="440.3"/>
<use href="#d" x="576.6" y="439.9"/>
<use href="#d" x="595.3" y="440.6"/>
<use href="#d" x="612.0" y="441.6"/>
<use href="#d" x="631.2" y="444.4"/>
<use href="#d" x="651.3" y="450.2"/>
<use href="#d" x="670.1" y="457.2"/>
<use href="#d" x="686.8" y="466.0"/>
<use href="#d" x="705.0" y="478.6"/>
<use href="#d" x="726.4" y="497.4"/>
<use href="#d" x="752.3" y="526.6"/>
<use href="#d" x="782.4" y="567.8"/>
<use href="#d" x="817.4" y="628.0"/>
<use href="#d" x="852.4" y="697.7"/>
<use href="#d" x="887.5" y="775.1"/>
<use href="#d" x="922.5" y="850.8"/>
<use href="#d" x="957.5" y="923.5"/>
<use href="#d" x="992.5" y="990.4"/>
<use href="#d" x="1027.5" y="1044.5"/>
<use href="#d" x="1062.6" y="1085.7"/>
<use href="#d" x="1097.6" y="1118.7"/>
<use href="#d" x="1132.6" y="1136.6"/>
<use href="#d" x="1167.6" y="1147.3"/>
<use href="#d" x="1202.6" y="1150.7"/>
<use href="#d" x="1237.7" y="1150.0"/>
<use href="#d" x="1272.7" y="1146.3"/>
<use href="#d" x="1307.7" y="1140.8"/>
<use href="#d" x="1342.7" y="1134.8"/>
<use href="#d" x="1377.7" y="1128.6"/>
<use href="#d" x="1412.8" y="1123.0"/>
<use href="#d" x="1447.8" y="1118.3"/>
<use href="#d" x="1482.8" y="1114.2"/>
<use href="#d" x="1517.8" y="1110.0"/>
<use href="#d" x="1552.8" y="1108.3"/>
<use href="#d" x="1587.9" y="1106.0"/>
<use href="#d" x="1622.9" y="1103.7"/>
<use href="#d" x="1657.9" y="1101.5"/>
<use href="#d" x="1692.9" y="1099.5"/>
<use href="#d" x="1727.9" y="1098.0"/>
<use href="#d" x="1763.0" y="1096.5"/>
<use href="#d" x="1798.0" y="1095.5"/>
<use href="#d" x="1833.0" y="1094.5"/>
<use href="#d" x="1868.0" y="1094.0"/>
<use href="#d" x="1903.0" y="1093.5"/>
<use href="#d" x="1938.1" y="1093.0"/>
<use href="#s" x="230.8" y="302.8"/>
<use href="#s" x="232.8" y="331.5"/>
<use href="#s" x="241.5" y="446.8"/>
<use href="#s" x="250.3" y="552.8"/>
<use href="#s" x="257.0" y="621.2"/>
<use href="#s" x="262.5" y="682.7"/>
<use href="#s" x="268.0" y="733.6"/>
<use href="#s" x="273.5" y="768.7"/>
<use href="#s" x="278.1" y="803.8"/>
<use href="#s" x="282.5" y="831.0"/>
<use href="#s" x="286.0" y="857.4"/>
<use href="#s" x="289.3" y="877.0"/>
<use href="#s" x="292.5" y="890.9"/>
<use href="#s" x="295.7" y="904.3"/>
<use href="#s" x="298.9" y="923.0"/>
<use href="#s" x="302.1" y="941.1"/>
<use href="#s" x="305.3" y="956.2"/>
<use href="#s" x="308.5" y="972.2"/>
<use href="#s" x="311.7" y="990.0"/>
<use href="#s" x="314.9" y="1002.2"/>
<use href="#s" x="318.1" y="1011.4"/>
<use href="#s" x="321.3" y="1023.0"/>
<use href="#s" x="324.5" y="1035.3"/>
<use href="#s" x="327.7" y="1045.3"/>
<use href="#s" x="330.9" y="1054.2"/>
<use href="#s" x="334.1" y="1063.0"/>
<use href="#s" x="337.3" y="1072.1"/>
<use href="#s" x="340.5" y="1081.0"/>
<use href="#s" x="343.7" y="1088.7"/>
<use href="#s" x="346.9" y="1095.8"/>
<use href="#s" x="350.1" y="1102.5"/>
<use href="#s" x="355.0" y="1113.0"/>
<use href="#s" x="359.0" y="1121.3"/>
<use href="#s" x="363.0" y="1128.8"/>
<use href="#s" x="368.0" y="1137.1"/>
<use href="#s" x="372.5" y="1143.9"/>
<use href="#s" x="377.5" y="1150.8"/>
<use href="#s" x="381.0" y="1155.3"/>
<use href="#s" x="384.4" y="1159.6"/>
<use href="#s" x="390.0" y="1166.2"/>
<use href="#s" x="394.4" y="1170.7"/>
<use href="#s" x="398.9" y="1174.6"/>
<use href="#s" x="403.4" y="1177.7"/>
<use href="#s" x="408.6" y="1181.0"/>
<use href="#s" x="413.3" y="1183.7"/>
<use href="#s" x="418.8" y="1186.3"/>
<use href="#s" x="425.0" y="1188.5"/>
<use href="#s" x="430.3" y="1189.8"/>
<use href="#s" x="437.3" y="1191.2"/>
<use href="#s" x="443.2" y="1192.1"/>
<use href="#s" x="449.0" y="1192.5"/>
<use href="#s" x="456.8" y="1192.3"/>
<use href="#s" x="463.8" y="1191.8"/>
<use href="#s" x="471.7" y="1191.1"/>
<use href="#s" x="479.5" y="1190.1"/>
<use href="#s" x="487.7" y="1188.7"/>
<use href="#s" x="498.2" y="1186.5"/>
<use href="#s" x="507.6" y="1184.5"/>
<use href="#s" x="518.1" y="1182.0"/>
<use href="#s" x="529.8" y="1177.6"/>
<use href="#s" x="543.8" y="1172.3"/>
<use href="#s" x="556.7" y="1168.6"/>
<use href="#s" x="576.6" y="1165.3"/>
<use href="#s" x="595.3" y="1160.1"/>
<use href="#s" x="612.0" y="1153.8"/>
<use href="#s" x="631.2" y="1148.5"/>
<use href="#s" x="651.3" y="1144.9"/>
<use href="#s" x="670.1" y="1140.2"/>
<use href="#s" x="686.8" y="1137.9"/>
<use href="#s" x="705.0" y="1134.5"/>
<use href="#s" x="726.4" y="1128.5"/>
<use href="#s" x="752.3" y="1126.8"/>
<use href="#s" x="782.4" y="1120.7"/>
<use href="#s" x="817.4" y="1117.6"/>
<use href="#s" x="852.4" y="1111.4"/>
<use href="#s" x="887.5" y="1108.8"/>
<use href="#s" x="922.5" y="1105.3"/>
<use href="#s" x="957.5" y="1104.2"/>
<use href="#s" x="992.5" y="1102.8"/>
<use href="#s" x="1027.5" y="1101.5"/>
<use href="#s" x="1062.6" y="1100.2"/>
<use href="#s" x="1097.6" y="1099.5"/>
<use href="#s" x="1132.6" y="1098.1"/>
<use href="#s" x="1167.6" y="1096.7"/>
<use href="#s" x="1202.6" y="1095.5"/>
<use href="#s" x="1237.7" y="1094.4"/>
<use href="#s" x="1272.7" y="1093.5"/>
<use href="#s" x="1307.7" y="1092.9"/>
<use href="#s" x="1342.7" y="1092.5"/>
<use href="#s" x="1377.7" y="1092.2"/>
<use href="#s" x="1412.8" y="1091.9"/>
<use href="#s" x="1447.8" y="1091.7"/>
<use href="#s" x="1482.8" y="1091.5"/>
<use href="#s" x="1517.8" y="1091.5"/>
<use href="#s" x="1552.8" y="1091.4"/>
<use href="#s" x="1587.9" y="1091.3"/>
<use href="#s" x="1622.9" y="1091.3"/>
<use href="#s" x="1657.9" y="1091.2"/>
<use href="#s" x="1692.9" y="1091.2"/>
<use href="#s" x="1727.9" y="1091.1"/>
<use href="#s" x="1763.0" y="1091.1"/>
<use href="#s" x="1798.0" y="1091.1"/>
<use href="#s" x="1833.0" y="1091.0"/>
<use href="#s" x="1868.0" y="1091.0"/>
<use href="#s" x="1903.0" y="1091.0"/>
<use href="#s" x="1938.1" y="1091.0"/>
<use href="#c" x="232.8" y="126.0"/>
<use href="#c" x="241.5" y="204.5"/>
<use href="#c" x="250.3" y="269.1"/>
<use href="#c" x="257.0" y="302.2"/>
<use href="#c" x="262.5" y="328.0"/>
<use href="#c" x="268.0" y="345.0"/>
<use href="#c" x="273.5" y="351.6"/>
<use href="#c" x="278.1" y="353.7"/>
<use href="#c" x="282.5" y="354.4"/>
<use href="#c" x="286.0" y="352.1"/>
<use href="#c" x="289.3" y="348.7"/>
<use href="#c" x="292.5" y="345.4"/>
<use href="#c" x="295.7" y="341.6"/>
<use href="#c" x="298.9" y="337.7"/>
<use href="#c" x="302.1" y="333.8"/>
<use href="#c" x="305.3" y="329.8"/>
<use href="#c" x="308.5" y="326.5"/>
<use href="#c" x="311.7" y="323.6"/>
<use href="#c" x="314.9" y="321.2"/>
<use href="#c" x="318.1" y="320.3"/>
<use href="#c" x="321.3" y="320.0"/>
<use href="#c" x="324.5" y="319.7"/>
<use href="#c" x="327.7" y="319.8"/>
<use href="#c" x="330.9" y="320.4"/>
<use href="#c" x="334.1" y="321.5"/>
<use href="#c" x="337.3" y="323.9"/>
<use href="#c" x="340.5" y="327.2"/>
<use href="#c" x="343.7" y="332.4"/>
<use href="#c" x="346.9" y="342.4"/>
<use href="#c" x="350.1" y="359.0"/>
<use href="#c" x="355.0" y="381.8"/>
<use href="#c" x="359.0" y="403.0"/>
<use href="#c" x="363.0" y="425.0"/>
<use href="#c" x="368.0" y="446.5"/>
<use href="#c" x="372.5" y="470.3"/>
<use href="#c" x="377.5" y="499.0"/>
<use href="#c" x="381.0" y="530.0"/>
<use href="#c" x="384.4" y="561.2"/>
<use href="#c" x="390.0" y="597.8"/>
<use href="#c" x="394.4" y="633.4"/>
<use href="#c" x="398.9" y="665.7"/>
<use href="#c" x="403.4" y="702.4"/>
<use href="#c" x="408.6" y="741.3"/>
<use href="#c" x="413.3" y="775.8"/>
<use href="#c" x="418.8" y="816.0"/>
<use href="#c" x="425.0" y="855.0"/>
<use href="#c" x="430.3" y="890.0"/>
<use href="#c" x="437.3" y="931.2"/>
<use href="#c" x="443.2" y="961.5"/>
<use href="#c" x="449.0" y="990.3"/>
<use href="#c" x="456.8" y="1025.5"/>
<use href="#c" x="463.8" y="1051.3"/>
<use href="#c" x="471.7" y="1078.9"/>
<use href="#c" x="479.5" y="1101.5"/>
<use href="#c" x="487.7" y="1122.0"/>
<use href="#c" x="498.2" y="1140.5"/>
<use href="#c" x="507.6" y="1155.0"/>
<use href="#c" x="518.1" y="1167.0"/>
<use href="#c" x="529.8" y="1176.3"/>
<use href="#c" x="543.8" y="1183.5"/>
<use href="#c" x="556.7" y="1189.4"/>
<use href="#c" x="576.6" y="1192.9"/>
<use href="#c" x="595.3" y="1194.1"/>
<use href="#c" x="612.0" y="1192.9"/>
<use href="#c" x="631.2" y="1191.7"/>
<use href="#c" x="651.3" y="1190.6"/>
<use href="#c" x="670.1" y="1189.4"/>
<use href="#c" x="686.8" y="1188.2"/>
<use href="#c" x="705.0" y="1187.5"/>
<use href="#c" x="726.4" y="1187.5"/>
<use href="#c" x="752.3" y="1189.0"/>
<use href="#c" x="782.4" y="1189.3"/>
<use href="#c" x="817.4" y="1190.9"/>
<use href="#c" x="852.4" y="1189.3"/>
<use href="#c" x="887.5" y="1181.1"/>
<use href="#c" x="922.5" y="1166.7"/>
<use href="#c" x="957.5" y="1149.3"/>
<use href="#c" x="992.5" y="1131.8"/>
<use href="#c" x="1027.5" y="1118.6"/>
<use href="#c" x="1062.6" y="1109.4"/>
<use href="#c" x="1097.6" y="1102.8"/>
<use href="#c" x="1132.6" y="1098.9"/>
<use href="#c" x="1167.6" y="1097.1"/>
<use href="#c" x="1202.6" y="1096.5"/>
<use href="#c" x="1237.7" y="1094.3"/>
<use href="#c" x="1272.7" y="1093.1"/>
<use href="#c" x="1307.7" y="1092.0"/>
<use href="#c" x="1342.7" y="1091.5"/>
<use href="#c" x="1377.7" y="1091.1"/>
<use href="#c" x="1412.8" y="1090.7"/>
<use href="#c" x="1447.8" y="1090.3"/>
<use href="#c" x="1482.8" y="1090.1"/>
<use href="#c" x="1517.8" y="1090.0"/>
<use href="#c" x="1552.8" y="1089.9"/>
<use href="#c" x="1587.9" y="1089.8"/>
<use href="#c" x="1622.9" y="1089.8"/>
<use href="#c" x="1657.9" y="1089.7"/>
<use href="#c" x="1692.9" y="1089.7"/>
<use href="#c" x="1727.9" y="1089.6"/>
<use href="#c" x="1763.0" y="1089.6"/>
<use href="#c" x="1798.0" y="1089.6"/>
<use href="#c" x="1833.0" y="1089.5"/>
<use href="#c" x="1868.0" y="1089.5"/>
<use href="#c" x="1903.0" y="1089.5"/>
<use href="#c" x="1938.1" y="1089.5"/>
<use href="#c" x="345.7" y="338.1"/>
<use href="#c" x="348.7" y="351.4"/>
<use href="#c" x="351.6" y="366.1"/>
<use href="#c" x="353.3" y="373.8"/>
<use href="#c" x="230.8" y="697.0"/>
<use href="#c" x="231.5" y="703.0"/>
<use href="#c" x="233.3" y="719.0"/>
<use href="#c" x="240.4" y="795.0"/>
<use href="#c" x="249.5" y="908.5"/>
<use href="#c" x="256.9" y="955.4"/>
<use href="#c" x="264.8" y="912.7"/>
<use href="#c" x="268.5" y="800.3"/>
<use href="#c" x="274.1" y="713.9"/>
<use href="#c" x="280.2" y="676.2"/>
<use href="#c" x="283.1" y="700.8"/>
<use href="#c" x="286.4" y="759.8"/>
<use href="#c" x="291.3" y="825.7"/>
<use href="#c" x="294.8" y="859.1"/>
<use href="#c" x="300.5" y="785.4"/>
<use href="#c" x="308.7" y="722.8"/>
<use href="#c" x="308.7" y="729.3"/>
<use href="#c" x="308.7" y="734.0"/>
<use href="#c" x="313.4" y="760.2"/>
<use href="#c" x="315.3" y="797.7"/>
<use href="#c" x="322.8" y="823.0"/>
<use href="#c" x="327.5" y="788.3"/>
<use href="#c" x="342.4" y="783.6"/>
<use href="#c" x="349.0" y="807.0"/>
<use href="#c" x="374.3" y="807.0"/>
<use href="#c" x="374.3" y="816.4"/>
<use href="#c" x="389.3" y="781.8"/>
<use href="#c" x="393.0" y="797.7"/>
<use href="#c" x="402.4" y="809.9"/>
<use href="#c" x="416.4" y="802.4"/>
<use href="#c" x="430.4" y="819.2"/>
<use href="#c" x="444.5" y="821.0"/>
<use href="#c" x="318.1" y="805.8"/>
<use href="#c" x="321.3" y="822.1"/>
<use href="#c" x="324.5" y="817.8"/>
<use href="#c" x="327.7" y="795.5"/>
<use href="#c" x="330.9" y="767.5"/>
<use href="#c" x="334.1" y="749.6"/>
<use href="#c" x="337.3" y="751.1"/>
<use href="#c" x="340.5" y="769.5"/>
<use href="#c" x="343.7" y="793.1"/>
<use href="#c" x="346.9" y="809.0"/>
<use href="#c" x="350.1" y="810.9"/>
<use href="#c" x="355.0" y="792.4"/>
<use href="#c" x="359.0" y="774.9"/>
<use href="#c" x="363.0" y="770.5"/>
<use href="#c" x="368.0" y="787.1"/>
<use href="#c" x="372.5" y="807.4"/>
<use href="#c" x="377.5" y="813.4"/>
<use href="#c" x="381.0" y="805.0"/>
<use href="#c" x="384.4" y="793.8"/>
<use href="#c" x="390.0" y="788.1"/>
<use href="#c" x="394.4" y="797.8"/>
<use href="#c" x="398.9" y="809.4"/>
<use href="#c" x="403.4" y="812.7"/>
<use href="#c" x="408.6" y="807.4"/>
<use href="#c" x="413.3" y="802.4"/>
<use href="#c" x="418.8" y="804.7"/>
<use href="#c" x="425.0" y="813.4"/>
<use href="#c" x="430.3" y="817.0"/>
<use href="#c" x="437.3" y="815.1"/>
<use href="#c" x="443.2" y="815.2"/>
<use href="#c" x="449.0" y="825.6"/>
<use href="#c" x="456.8" y="831.0"/>
<use href="#c" x="463.8" y="835.3"/>
<use href="#c" x="471.7" y="840.4"/>
<use href="#c" x="479.5" y="845.5"/>
<use href="#c" x="487.7" y="850.8"/>
<use href="#c" x="498.2" y="857.6"/>
<use href="#c" x="507.6" y="863.6"/>
<use href="#c" x="518.1" y="870.3"/>
<use href="#c" x="529.8" y="878.4"/>
<use href="#c" x="543.8" y="890.8"/>
<use href="#c" x="556.7" y="905.3"/>
<use href="#c" x="576.6" y="926.1"/>
<use href="#c" x="595.3" y="946.0"/>
<use href="#c" x="612.0" y="967.4"/>
<use href="#c" x="631.2" y="992.7"/>
<use href="#c" x="651.3" y="1020.6"/>
<use href="#c" x="670.1" y="1048.8"/>
<use href="#c" x="686.8" y="1077.3"/>
<use href="#c" x="705.0" y="1105.3"/>
<use href="#c" x="726.4" y="1142.1"/>
<use href="#c" x="752.3" y="1180.2"/>
<use href="#c" x="782.4" y="1230.2"/>
<use href="#c" x="817.4" y="1279.4"/>
<use href="#c" x="852.4" y="1318.2"/>
<use href="#c" x="887.5" y="1342.9"/>
<use href="#c" x="922.5" y="1351.1"/>
<use href="#c" x="957.5" y="1346.0"/>
<use href="#c" x="992.5" y="1328.4"/>
<use href="#c" x="1027.5" y="1302.1"/>
<use href="#c" x="1062.6" y="1270.2"/>
<use href="#c" x="1097.6" y="1235.2"/>
<use href="#c" x="1132.6" y="1199.9"/>
<use href="#c" x="1167.6" y="1175.5"/>
<use href="#c" x="1202.6" y="1150.9"/>
<use href="#c" x="1237.7" y="1130.8"/>
<use href="#c" x="1272.7" y="1116.4"/>
<use href="#c" x="1307.7" y="1106.4"/>
<use href="#c" x="1342.7" y="1099.0"/>
<use href="#c" x="1377.7" y="1095.0"/>
<use href="#c" x="1412.8" y="1092.5"/>
<use href="#c" x="1447.8" y="1091.5"/>
<use href="#c" x="1482.8" y="1091.5"/>
<use href="#c" x="1517.8" y="1091.5"/>
<use href="#c" x="1552.8" y="1091.5"/>
<use href="#c" x="1587.9" y="1091.5"/>
<use href="#c" x="1622.9" y="1091.5"/>
<use href="#c" x="1657.9" y="1091.5"/>
<use href="#c" x="1692.9" y="1091.5"/>
<use href="#c" x="1727.9" y="1091.5"/>
<use href="#c" x="1763.0" y="1091.5"/>
<use href="#c" x="1798.0" y="1091.5"/>
<use href="#c" x="1833.0" y="1091.5"/>
<use href="#c" x="1868.0" y="1091.5"/>
<use href="#c" x="1903.0" y="1091.5"/>
<use href="#c" x="1938.1" y="1091.5"/>
<path d="M230.8 1499.0v-15.5M230.8 112.8v15.5M481.0 1499.0v-15.5M481.0 112.8v15.5M731.1 1499.0v-15.5M731.1 112.8v15.5M981.2 1499.0v-15.5M981.2 112.8v15.5M1231.4 1499.0v-15.5M1231.4 112.8v15.5M1481.5 1499.0v-15.5M1481.5 112.8v15.5M1731.7 1499.0v-15.5M1731.7 112.8v15.5M198.7 1492.5h15.5M1947.3 1492.5h-15.5M198.7 1291.9h15.5M1947.3 1291.9h-15.5M198.7 1094.0h15.5M1947.3 1094.0h-15.5M198.7 896.1h15.5M1947.3 896.1h-15.5M198.7 698.2h15.5M1947.3 698.2h-15.5M198.7 500.3h15.5M1947.3 500.3h-15.5M198.7 302.4h15.5M1947.3 302.4h-15.5" stroke="#333" stroke-width="2.6" fill="none"/>
<rect x="198.7" y="112.8" width="1748.6" height="1386.2" fill="none" stroke="#3a3a3a" stroke-width="2.8"/>
<g font-size="58.5" fill="#262626">
<text x="231.1" y="1576.8" text-anchor="middle">0</text>
<text x="481.3" y="1576.8" text-anchor="middle">1</text>
<text x="731.4" y="1576.8" text-anchor="middle">2</text>
<text x="981.5" y="1576.8" text-anchor="middle">3</text>
<text x="1231.7" y="1576.8" text-anchor="middle">4</text>
<text x="1481.8" y="1576.8" text-anchor="middle">5</text>
<text x="1732.0" y="1576.8" text-anchor="middle">6</text>
<text x="177" y="1514.1" text-anchor="end">-2</text>
<text x="177" y="1313.5" text-anchor="end">-1</text>
<text x="177" y="1115.6" text-anchor="end">0</text>
<text x="177" y="917.7" text-anchor="end">1</text>
<text x="177" y="719.8" text-anchor="end">2</text>
<text x="177" y="521.9" text-anchor="end">3</text>
<text x="177" y="324.0" text-anchor="end">4</text>
</g>
<text x="1073" y="85.4" font-size="62.3" font-weight="bold" fill="#000" text-anchor="middle">Apply PID Controller</text>
<text x="1071.5" y="1662.9" font-size="62.5" fill="#0d0d0d" text-anchor="middle">Time (seconds)</text>
<text transform="translate(99.3 808.3) rotate(-90)" x="0" y="0" font-size="62.5" fill="#0d0d0d" text-anchor="middle">State trajectories</text>
<rect x="1033.2" y="123.2" width="908.3" height="488.2" fill="#fff" stroke="#3a3a3a" stroke-width="2.6"/>
<g font-size="50.4" fill="#1a1a1a">
<text x="1308.5" y="197.5">State trajectory for x1</text>
<text x="1308.5" y="292.8">State trajectory for x2</text>
<text x="1308.5" y="388.1">State trajectory for x3</text>
<text x="1308.5" y="483.4">State trajectory for x4</text>
<text x="1308.5" y="578.7">State trajectory for x5</text>
</g>
<line x1="1180" y1="174.9" x2="1298.7" y2="174.9" stroke="#1f1fff" stroke-width="3"/>
<use href="#c" x="1240.5" y="271.6"/>
<use href="#d" x="1240.5" y="367.1"/>
<use href="#s" x="1239.5" y="461.3"/>
<use href="#c" x="1240.5" y="558.2"/>
</svg></body></html>
